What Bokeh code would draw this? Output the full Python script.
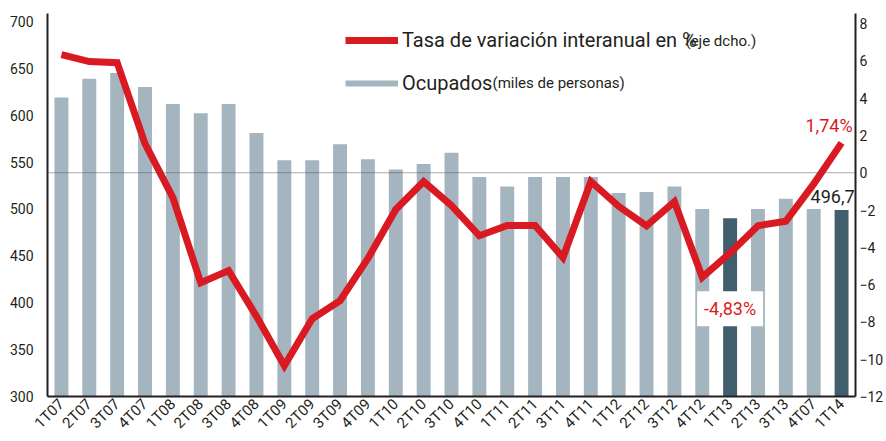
import math
from bokeh.plotting import figure
from bokeh.models import (Range1d, LinearAxis, FixedTicker, Span, Label, Legend,
                          LegendItem, ColumnDataSource)
from bokeh.embed import file_html
from bokeh.resources import INLINE

# ---------------- data ----------------
categories = ["1T07", "2T07", "3T07", "4T07", "1T08", "2T08", "3T08", "4T08",
              "1T09", "2T09", "3T09", "4T09", "1T10", "2T10", "3T10", "4T10",
              "1T11", "2T11", "3T11", "4T11", "1T12", "2T12", "3T12", "4T12",
              "1T13", "2T13", "3T13", "4T07", "1T14"]
ocupados = [619, 639, 645, 630, 612, 602, 612, 581,
            552, 552, 569, 553, 542, 548, 560, 534,
            524, 534, 534, 534, 517, 518, 524, 500,
            490, 500, 511, 500, 499]
tasa = [6.34, 5.96, 5.9, 1.56, -1.33, -5.9, -5.25, -7.7,
        -10.35, -7.83, -6.86, -4.6, -1.97, -0.47, -1.76, -3.38,
        -2.83, -2.83, -4.55, -0.47, -1.8, -2.85, -1.55, -5.6,
        -4.3, -2.84, -2.6, -0.6, 1.6]
highlight = ["1T13", "1T14"]
left_ticks = [300, 350, 400, 450, 500, 550, 600, 650, 700]
right_ticks = [-12, -10, -8, -6, -4, -2, 0, 2, 4, 6, 8]
label_last_tasa = "1,74%"
label_min_tasa = "-4,83%"
label_last_ocup = "496,7"
legend_tasa = "Tasa de variación interanual en %"
legend_tasa_note = "(eje dcho.)"
legend_ocup = "Ocupados"
legend_ocup_note = "(miles de personas)"

# ---------------- styles ----------------
GRAY = "#A4B5BF"
DARK = "#415E6C"
RED = "#DA1A22"
TXT = "#231F20"
FONT = "Roboto"

xs = list(range(len(categories)))
colors = [DARK if c in highlight else GRAY for c in categories]
src = ColumnDataSource(dict(x=xs, ocupados=ocupados, tasa=tasa, color=colors))

p = figure(width=886, height=441, output_backend="svg", toolbar_location=None,
           x_range=Range1d(-0.5, len(categories) - 0.5),
           y_range=Range1d(left_ticks[0], 708.5),
           min_border_left=47, min_border_right=25, min_border_top=13,
           min_border_bottom=45)
p.extra_y_ranges = {"right": Range1d(right_ticks[0], 8.54)}
p.outline_line_color = None
p.xgrid.visible = False
p.ygrid.visible = False
p.background_fill_color = "white"
p.border_fill_color = "white"

bars = p.vbar(x="x", top="ocupados", bottom=left_ticks[0], width=0.5,
              fill_color="color", line_color=None, source=src)

line_r = p.line(x="x", y="tasa", y_range_name="right", line_color=RED,
                line_width=7, line_join="miter", source=src)
# legend proxy for the bar series (draws nothing on the plot)
dummy = p.line(x=[0], y=[float("nan")], line_color=GRAY, line_width=6)

zero = Span(location=0, dimension="width", y_range_name="right",
            line_color="#555555", line_width=1, line_dash="1 1")
p.add_layout(zero)

# axes
p.yaxis.ticker = FixedTicker(ticks=left_ticks)
raxis = LinearAxis(y_range_name="right", ticker=FixedTicker(ticks=right_ticks))
p.add_layout(raxis, "right")
p.xaxis.ticker = FixedTicker(ticks=xs)
p.xaxis.major_label_overrides = {i: c for i, c in enumerate(categories)}
p.xaxis.major_label_orientation = math.pi / 4

for ax in [p.xaxis[0], p.yaxis[0], raxis]:
    ax.axis_line_color = TXT
    ax.axis_line_width = 2
    ax.major_tick_out = 0
    ax.major_tick_in = 0
    ax.minor_tick_out = 0
    ax.minor_tick_in = 0
    ax.major_label_text_font = FONT
    ax.major_label_text_font_size = "14px"
    ax.major_label_text_color = TXT
p.yaxis[0].major_label_standoff = 14
raxis.major_label_standoff = 4
p.xaxis[0].major_label_standoff = 5
p.xaxis[0].major_label_text_font_size = "15px"

# legend
legend = Legend(items=[LegendItem(label=legend_tasa, renderers=[line_r]),
                       LegendItem(label=legend_ocup, renderers=[dummy])],
                location=(298, 301), orientation="vertical",
                glyph_width=53, glyph_height=20, label_height=20,
                label_standoff=4, padding=0, margin=0, spacing=19,
                border_line_color=None, background_fill_alpha=0,
                label_text_font=FONT, label_text_font_size="20px",
                label_text_color=TXT)
p.add_layout(legend)

p.add_layout(Label(x=638, y=356, x_units="screen", y_units="screen",
                   text=legend_tasa_note, text_font=FONT, text_font_size="15px",
                   text_color=TXT, text_baseline="middle"))
p.add_layout(Label(x=445, y=314, x_units="screen", y_units="screen",
                   text=legend_ocup_note, text_font=FONT, text_font_size="15px",
                   text_color=TXT, text_baseline="middle"))

# value labels
last = len(categories) - 1
imin = categories.index("1T13")
p.add_layout(Label(x=last, y=tasa[last], y_range_name="right", x_offset=11,
                   y_offset=17, text=label_last_tasa, text_font=FONT,
                   text_font_size="18px", text_color=RED, text_align="right",
                   text_baseline="middle"))
p.add_layout(Label(x=last, y=ocupados[last], x_offset=13, y_offset=13,
                   text=label_last_ocup, text_font=FONT, text_font_size="18px",
                   text_color=TXT, text_align="right",
                   text_baseline="alphabetic"))
p.add_layout(Label(x=imin, y=-4.83, y_range_name="right", y_offset=-46,
                   text=label_min_tasa, text_font=FONT, text_font_size="18px",
                   text_color=RED, text_align="center", text_baseline="middle",
                   background_fill_color="white", padding=7))

open("out.html", "w").write(file_html(p, INLINE))
